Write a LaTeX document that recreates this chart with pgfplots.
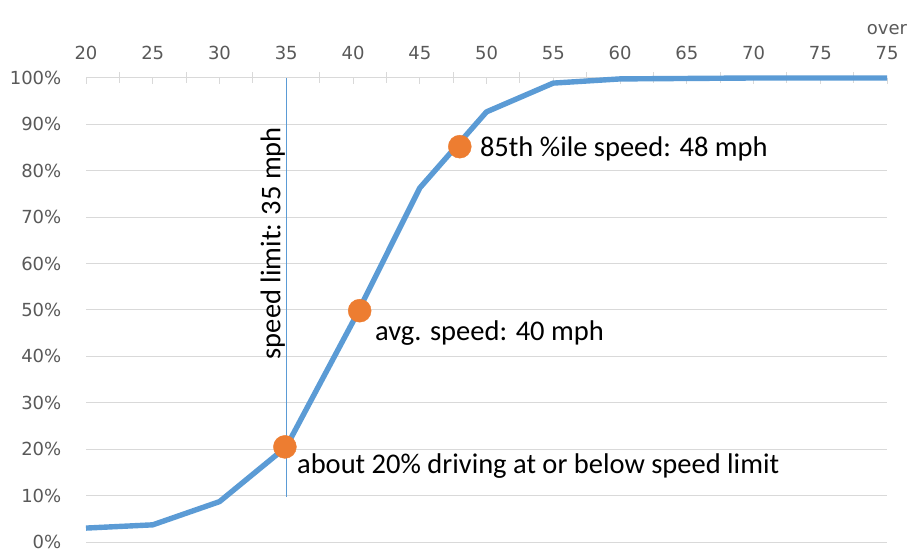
\documentclass[border=0pt]{standalone}
\usepackage{pgfplots}
\pgfplotsset{compat=1.18}
\usepackage{fontspec}
\setmainfont{Carlito}
\newfontfamily\tickfont{DejaVu Sans}
\definecolor{lineblue}{HTML}{5B9BD5}
\definecolor{dotorange}{HTML}{ED7D31}
\definecolor{gridgray}{HTML}{D9D9D9}
\definecolor{ticktext}{HTML}{595959}
\begin{document}
\begin{tikzpicture}
\useasboundingbox (0,0) rectangle (909pt,554pt);
\begin{axis}[
  at={(86pt,12pt)}, anchor=south west,
  scale only axis, width=801pt, height=464pt,
  xmin=0, xmax=12, ymin=0, ymax=100,
  clip=false,
  axis x line*=top, axis y line*=left,
  y axis line style={draw=none},
  x axis line style={draw=gridgray, line width=1pt, -},
  xtick={0.5,1.5,...,11.5},
  xticklabels={},
  extra x ticks={0,1,...,12},
  extra x tick labels={20,25,30,35,40,45,50,55,60,65,70,75,{over\\75}},
  extra x tick style={tick align=inside, major tick length=6pt,
    xticklabel style={align=center, anchor=south, inner sep=0pt, yshift=18pt,
      font=\tickfont\fontsize{18}{25.5}\selectfont, text=ticktext}},
  tick align=center, major tick length=11pt,
  xtick style={draw=gridgray, line width=1pt},
  ytick={0,10,...,100},
  ytick style={draw=none},
  yticklabel={\pgfmathprintnumber{\tick}\%},
  yticklabel style={font=\tickfont\fontsize{18}{20}\selectfont, text=ticktext, inner sep=0pt, xshift=-19pt, anchor=east},
  /pgf/number format/assume math mode=true,
  ymajorgrids,
  major grid style={draw=gridgray, line width=1pt},
]
\addplot[lineblue, line width=0.8pt] coordinates {(3,9.7) (3,100)};
\addplot[lineblue, line width=5.4pt, line join=round] coordinates {
  (0,3.0) (1,3.7) (2,8.7) (3,20.5) (4,47.5) (5,76.3) (6,92.7) (7,98.9)
  (8,99.8) (9,99.9) (10,100) (11,100) (12,100)};
\addplot[only marks, mark=*, mark size=11.5pt, dotorange, mark options={draw=dotorange, fill=dotorange}]
  coordinates {(2.98,20.5) (4.10,49.85) (5.60,85.2)};
\node[rotate=90, anchor=south, inner sep=1pt, font=\fontsize{28.5}{30}\selectfont] at (axis cs:3,64.4) {speed limit: 35 mph};
\node[anchor=base west, inner sep=0pt, font=\fontsize{28.5}{30}\selectfont] at (axis cs:5.90,83.0) {85th \%ile speed: 48 mph};
\node[anchor=base west, inner sep=0pt, font=\fontsize{28.5}{30}\selectfont] at (axis cs:4.33,43.4) {avg. speed: 40 mph};
\node[anchor=base west, inner sep=0pt, font=\fontsize{28.5}{30}\selectfont] at (axis cs:3.16,14.8) {about 20\% driving at or below speed limit};
\end{axis}
\end{tikzpicture}
\end{document}
